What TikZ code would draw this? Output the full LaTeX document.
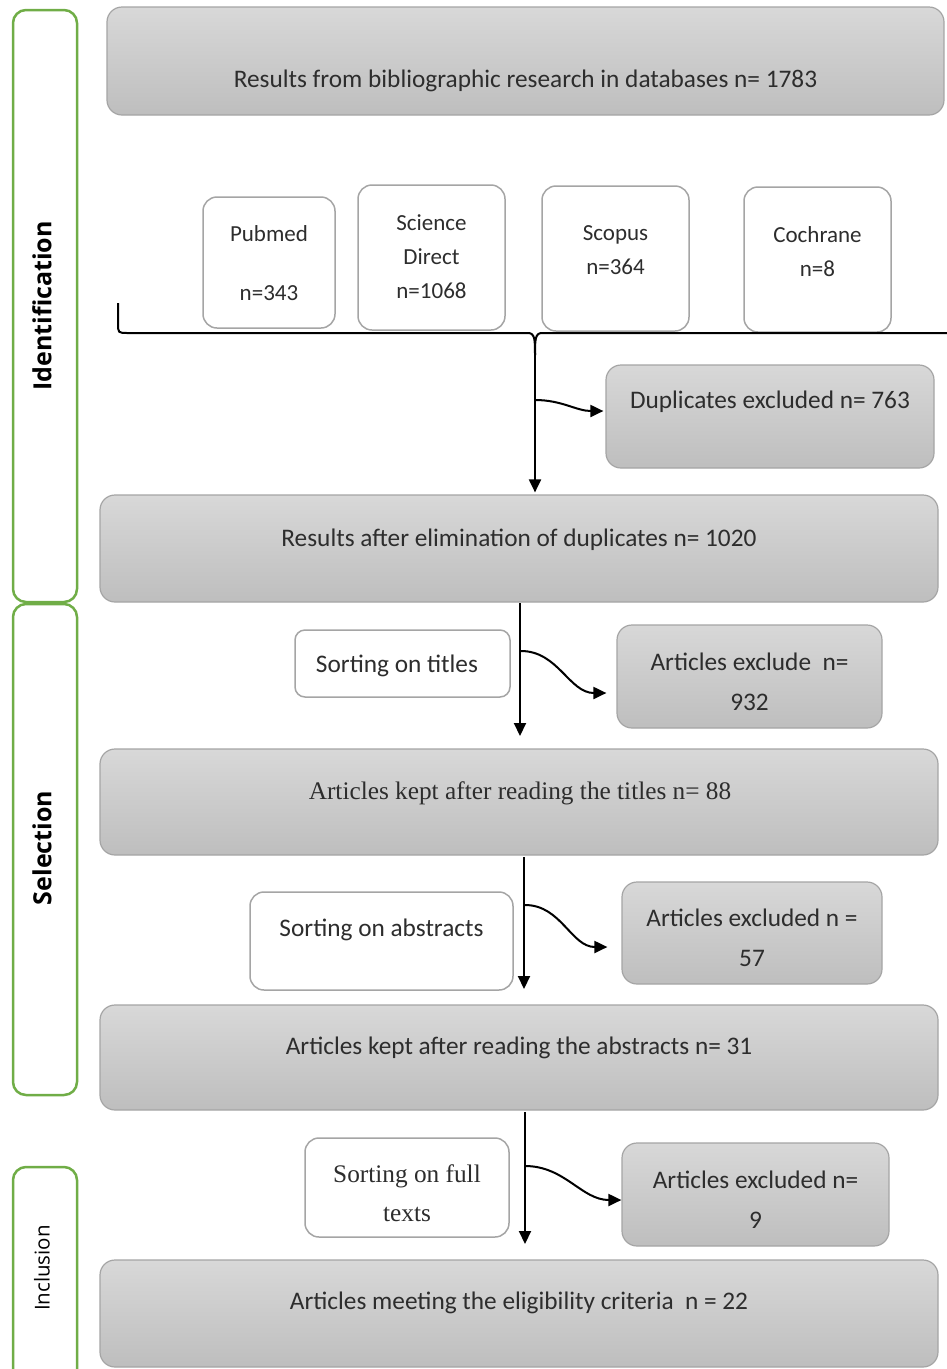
\documentclass[tikz,border=0pt]{standalone}
\usepackage{fontspec}
\setmainfont{Carlito}
\newfontfamily\serifx{Liberation Serif}
\newfontfamily\sidefont{Open Sans}
\usetikzlibrary{arrows.meta,positioning,calc}
\definecolor{grn}{RGB}{112,173,71}
\definecolor{bord}{RGB}{165,165,165}
\definecolor{gtop}{RGB}{216,216,216}
\definecolor{gbot}{RGB}{190,190,190}
\definecolor{txt}{RGB}{45,45,45}
\begin{document}
\begin{tikzpicture}[x=1pt,y=-1pt,
  graybox/.style={draw=bord,line width=1.2pt,rounded corners=15pt,top color=gtop,bottom color=gbot,inner sep=0pt},
  whitebox/.style={draw=bord,line width=1.5pt,rounded corners=14pt,fill=white,inner sep=0pt},
  sidebox/.style={draw=grn,line width=2.5pt,rounded corners=13pt,inner sep=0pt,minimum width=64pt},
  lbl/.style={text=txt,font=\fontsize{25.3}{40}\selectfont,align=center,inner sep=0pt},
  slbl/.style={text=txt,font=\serifx\fontsize{25.3}{39}\selectfont,align=center,inner sep=0pt},
  dblbl/.style={text=txt,font=\fontsize{23}{34}\selectfont,align=center,inner sep=0pt},
  sidelbl/.style={font=\sidefont\bfseries\fontsize{25}{27}\selectfont,rotate=90,inner sep=0pt},
  arr/.style={line width=2pt,-{Triangle[length=13pt,width=12pt]}},
  ln/.style={line width=2pt}
]
\useasboundingbox (0,0) rectangle (947,1369);
% side boxes
\node[sidebox,minimum height=592pt] (sid) at (45,306) {};
\node[sidebox,minimum height=491pt] (ssel) at (45,849.5) {};
\node[sidebox,minimum height=220pt] (sinc) at (45,1277) {};
\node[sidelbl] (tid) at (42,306) {Identification};
\node[sidelbl] (tsel) at (42,848) {Selection};
\node[sidelbl,font=\sidefont\fontsize{20.5}{22}\selectfont] (tinc) at (42,1268) {Inclusion};
% top box
\node[graybox,minimum width=837pt,minimum height=108pt] (top) at (525.5,61) {};
\node[lbl] (ttop) at (525.5,81) {Results from bibliographic research in databases n= 1783};
% databases
\node[whitebox,minimum width=132pt,minimum height=131pt] (pub) at (269,262.5) {};
\node[dblbl] (tpub1) at (269,234) {Pubmed};
\node[dblbl] (tpub2) at (269,293) {n=343};
\node[whitebox,minimum width=147pt,minimum height=145pt] (sd) at (431.5,257.5) {};
\node[dblbl] (tsd) at (431.5,257) {Science\\Direct\\n=1068};
\node[whitebox,minimum width=147pt,minimum height=145pt] (sco) at (615.5,258.5) {};
\node[dblbl] (tsco) at (615.5,250) {Scopus\\n=364};
\node[whitebox,minimum width=147pt,minimum height=145pt] (coch) at (817.5,259.5) {};
\node[dblbl] (tcoch) at (817.5,252) {Cochrane\\n=8};
% brace
\coordinate (bl) at (118,303);
\coordinate (br) at (947,333);
\coordinate (btip) at (535,355);
\draw[ln] (bl) -- (118,323) .. controls (118,333) .. (128,333) -- (528,333) .. controls (535,333) and (535,340) .. (btip);
\draw[ln] (br) -- (542,333) .. controls (535,333) and (535,340) .. (btip);
% duplicates
\node[graybox,minimum width=328pt,minimum height=103pt] (dup) at (770,416.5) {};
\node[lbl] (tdup) at (770,402) {Duplicates excluded n= 763};
\node[graybox,minimum width=838pt,minimum height=107pt] (res) at (519,548.5) {};
\node[lbl] (tres) at (519,540) {Results after elimination of duplicates n= 1020};
\draw[arr] (btip) -- ($(btip |- res.north)+(0,-2)$);
\draw[arr] ($(btip)+(0,45)$) to[out=0,in=180] ([xshift=-2pt,yshift=5.5pt]dup.west);
% titles
\node[whitebox,minimum width=215pt,minimum height=67pt,rounded corners=10pt] (st) at (402.5,663.5) {};
\node[lbl] (tst) at (397,666) {Sorting on titles};
\node[graybox,minimum width=265pt,minimum height=103pt] (ex1) at (749.5,676.5) {};
\node[lbl] (tex1) at (749.5,682) {Articles exclude\ \ n=\\932};
\node[graybox,minimum width=838pt,minimum height=106pt] (kt) at (519,802) {};
\node[slbl] (tkt) at (520,793) {Articles kept after reading the titles n= 88};
\draw[arr] (520,603) -- (520,736);
\draw[arr] (521,651) to[out=0,in=180] ([xshift=-10pt,yshift=-16.5pt]ex1.west);
% abstracts
\node[whitebox,minimum width=263pt,minimum height=98pt] (sa) at (381.5,941) {};
\node[lbl] (tsa) at (381.5,930) {Sorting on abstracts};
\node[graybox,minimum width=260pt,minimum height=102pt] (ex2) at (752,933) {};
\node[lbl] (tex2) at (752,938) {Articles excluded n =\\57};
\node[graybox,minimum width=838pt,minimum height=105pt] (ka) at (519,1057.5) {};
\node[lbl] (tka) at (519,1048) {Articles kept after reading the abstracts n= 31};
\draw[arr] (524,857) -- (524,989);
\draw[arr] (525,905) to[out=0,in=180] ([xshift=-14pt,yshift=-14pt]ex2.west);
% full texts
\node[whitebox,minimum width=204pt,minimum height=99pt] (sf) at (407,1187.5) {};
\node[slbl] (tsf) at (407,1193) {Sorting on full\\texts};
\node[graybox,minimum width=267pt,minimum height=103pt] (ex3) at (755.5,1194.5) {};
\node[lbl] (tex3) at (755.5,1200) {Articles excluded n=\\9};
\node[graybox,minimum width=838pt,minimum height=107pt] (fin) at (519,1313.5) {};
\node[lbl] (tfin) at (519,1303) {Articles meeting the eligibility criteria\ \ n = 22};
\draw[arr] (525,1112) -- (525,1244);
\draw[arr] (525,1166) to[out=0,in=180] ([yshift=-5.5pt]ex3.west);
\end{tikzpicture}
\end{document}
